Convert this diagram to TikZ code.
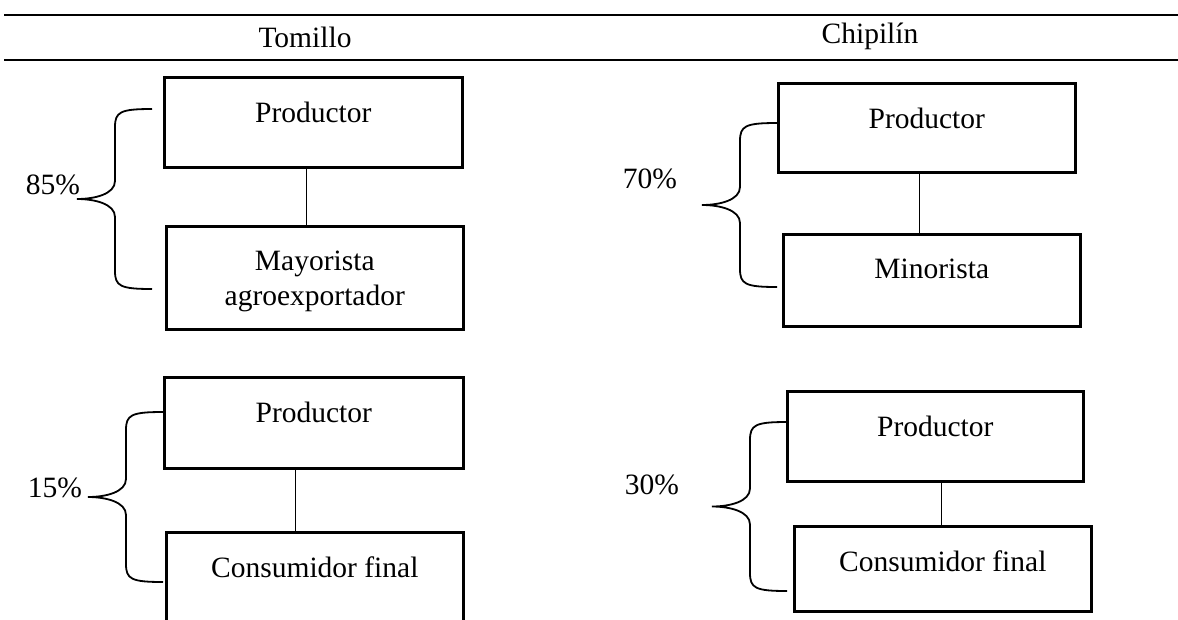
\documentclass[tikz,border=0pt]{standalone}
\usepackage{fontspec}
\setmainfont{Liberation Serif}
\usetikzlibrary{positioning}

\tikzset{
  caja/.style={draw, line width=2.6pt, anchor=north west, inner sep=0pt},
  texto/.style={align=center, font=\fontsize{29.5}{35}\selectfont},
  linea/.style={line width=1.4pt},
  llave/.style={line width=1.8pt},
  regla/.style={line width=2pt}
}

% llave: #1 = x del trazo vertical, #2 = y arriba, #3 = y abajo
\newcommand{\llave}[3]{%
  \draw[llave] (#1+37,#2) .. controls (#1+5,#2) and (#1,#2+3) .. (#1,#2+18)
    -- (#1,{(#2+#3)/2-18})
    .. controls (#1,{(#2+#3)/2-5}) and (#1-20,{(#2+#3)/2}) .. (#1-38,{(#2+#3)/2})
    .. controls (#1-20,{(#2+#3)/2}) and (#1,{(#2+#3)/2+5}) .. (#1,{(#2+#3)/2+18})
    -- (#1,#3-18)
    .. controls (#1,#3-3) and (#1+5,#3) .. (#1+37,#3);}

\begin{document}
\begin{tikzpicture}[x=1pt,y=-1pt]
    \useasboundingbox (0,0) rectangle (1178,619);
    \clip (0,0) rectangle (1178,619);

    % encabezado
    \draw[regla] (4,15) -- (1178,15);
    \draw[regla] (4,60) -- (1178,60);
    \node[texto] (tomillo) at (305,37) {Tomillo};
    \node[texto] (chipilin) at (870,36) {Chipilín};

    % Tomillo, 85%
    \node[caja, minimum width=298, minimum height=90] (prodT1) at (163,76) {};
    \node[texto, below=22pt of prodT1.north] (tProdT1) {Productor};
    \node[caja, minimum width=297, minimum height=103] (mayT) at (165,225) {};
    \node[texto, below=22pt of mayT.north] (tMayT) {Mayorista\\agroexportador};
    \draw[linea] ([xshift=-7pt]prodT1.south) -- ([xshift=-7pt]prodT1.south |- mayT.north);
    \llave{115}{109}{289}
    \node[texto] (p85) at (53,185) {85\%};

    % Tomillo, 15%
    \node[caja, minimum width=299, minimum height=91] (prodT2) at (163,376) {};
    \node[texto, below=22pt of prodT2.north] (tProdT2) {Productor};
    \node[caja, minimum width=297, minimum height=120] (consT) at (165,531) {};
    \node[texto, below=22pt of consT.north] (tConsT) {Consumidor final};
    \draw[linea] ([xshift=-18.5pt]prodT2.south) -- ([xshift=-18.5pt]prodT2.south |- consT.north);
    \llave{126}{412}{582}
    \node[texto] (p15) at (55,488) {15\%};

    % Chipilín, 70%
    \node[caja, minimum width=297, minimum height=89] (prodC1) at (777,82) {};
    \node[texto, below=22pt of prodC1.north] (tProdC1) {Productor};
    \node[caja, minimum width=297, minimum height=92] (minC) at (782,233) {};
    \node[texto, below=22pt of minC.north] (tMinC) {Minorista};
    \draw[linea] ([xshift=-7.5pt]prodC1.south) -- ([xshift=-7.5pt]prodC1.south |- minC.north);
    \llave{740}{123}{287}
    \node[texto] (p70) at (650,179) {70\%};

    % Chipilín, 30%
    \node[caja, minimum width=296, minimum height=90] (prodC2) at (786,390) {};
    \node[texto, below=22pt of prodC2.north] (tProdC2) {Productor};
    \node[caja, minimum width=297, minimum height=85] (consC) at (793,525) {};
    \node[texto, below=22pt of consC.north] (tConsC) {Consumidor final};
    \draw[linea] ([xshift=6pt]prodC2.south) -- ([xshift=6pt]prodC2.south |- consC.north);
    \llave{750}{422}{591}
    \node[texto] (p30) at (652,485) {30\%};
\end{tikzpicture}
\end{document}
